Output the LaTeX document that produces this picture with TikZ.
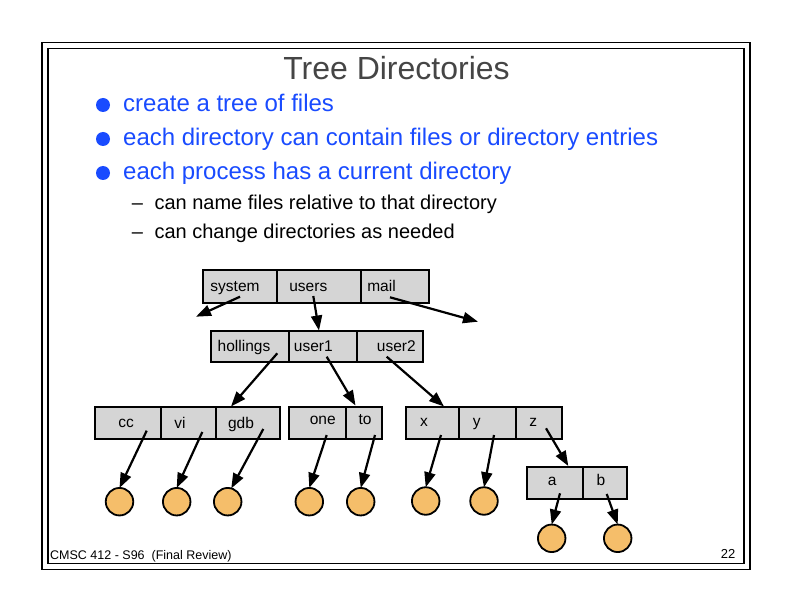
\documentclass[tikz,border=0pt]{standalone}
\usepackage{fontspec}
\setmainfont{Liberation Sans}
\usetikzlibrary{arrows.meta}
\definecolor{bluetext}{RGB}{25,75,255}
\definecolor{titlegray}{RGB}{69,69,69}
\definecolor{cellgray}{RGB}{213,213,213}
\definecolor{fileorange}{RGB}{245,190,106}
\tikzset{
  cell/.style={draw=black, fill=cellgray, line width=1.9pt, inner sep=0pt, outer sep=0pt},
  lbl/.style={anchor=base, inner sep=0pt, font=\fontsize{15.5}{18}\selectfont},
  filenode/.style={circle, draw=black, fill=fileorange, line width=1.8pt, minimum size=27.5pt, inner sep=0pt, outer sep=0pt},
  ptr/.style={line width=2.2pt, -{Triangle[length=15pt,width=11pt]}, shorten >=0pt},
  bul/.style={circle, fill=bluetext, minimum size=14pt, inner sep=0pt},
  btext/.style={anchor=base west, inner sep=0pt, text=bluetext, font=\fontsize{24}{28}\selectfont},
  stext/.style={anchor=base west, inner sep=0pt, font=\fontsize{20}{24}\selectfont},
}
\begin{document}
\begin{tikzpicture}[x=1pt,y=-1pt]
\useasboundingbox (0,0) rectangle (792,612);
% frames
\draw[line width=1.2pt] (42,42.5) rectangle (750,569.3);
\draw[line width=1.2pt] (48,48.5) rectangle (744,563.3);
% title
\node[anchor=base, inner sep=0pt, text=titlegray, font=\fontsize{32}{36}\selectfont] (title) at (396.5,79.3) {Tree Directories};
% bullets
\node[bul] (d1) at (103,105) {};
\node[bul] (d2) at (103,139) {};
\node[bul] (d3) at (103,173) {};
\node[btext] (t1) at (123,112) {create a tree of files};
\node[btext] (t2) at (123,146) {each directory can contain files or directory entries};
\node[btext] (t3) at (123,180) {each process has a current directory};
\node[stext] (s1d) at (131.7,210) {–};
\node[stext] (s1) at (154.3,210) {can name files relative to that directory};
\node[stext] (s2d) at (131.7,238.3) {–};
\node[stext] (s2) at (154.3,238.3) {can change directories as needed};
% footer
\node[anchor=base west, inner sep=0pt, font=\fontsize{12.5}{14}\selectfont] (foot) at (50,559.3) {CMSC 412 - S96\ \ (Final Review)};
\node[anchor=base east, inner sep=0pt, font=\fontsize{13}{14}\selectfont] (pg) at (735.5,558.5) {22};

% row 1
\node[cell, minimum width=74pt, minimum height=33pt] (system) at (240.3,286.5) {};
\node[cell, minimum width=83.7pt, minimum height=33pt] (users) at (319.15,286.5) {};
\node[cell, minimum width=68pt, minimum height=33pt] (mail) at (395,286.5) {};
\node[lbl] (lsystem) at (235,291.7) {system};
\node[lbl] (lusers) at (308.3,291.7) {users};
\node[lbl] (lmail) at (381.5,291.7) {mail};
% row 2
\node[cell, minimum width=78.3pt, minimum height=31.3pt] (hollings) at (249.85,346.65) {};
\node[cell, minimum width=67.7pt, minimum height=31.3pt] (user1) at (322.85,346.65) {};
\node[cell, minimum width=66.6pt, minimum height=31.3pt] (user2) at (390,346.65) {};
\node[lbl] (lhollings) at (244,351) {hollings};
\node[lbl] (luser1) at (313.3,351) {user1};
\node[lbl] (luser2) at (396.3,351) {user2};
% row 3
\node[cell, minimum width=66pt, minimum height=31.5pt] (cc) at (128,423) {};
\node[cell, minimum width=54.7pt, minimum height=31.5pt] (vi) at (188.35,423) {};
\node[cell, minimum width=64.3pt, minimum height=31.5pt] (gdb) at (247.85,423) {};
\node[cell, minimum width=56.4pt, minimum height=31.5pt] (one) at (317.5,423) {};
\node[cell, minimum width=36.3pt, minimum height=31.5pt] (to) at (363.85,423) {};
\node[cell, minimum width=53.3pt, minimum height=31.5pt] (x) at (432.35,423) {};
\node[cell, minimum width=57pt, minimum height=31.5pt] (y) at (487.5,423) {};
\node[cell, minimum width=45.7pt, minimum height=31.5pt] (z) at (538.85,423) {};
\node[lbl] (lcc) at (126,427) {cc};
\node[lbl] (lvi) at (180,428.3) {vi};
\node[lbl] (lgdb) at (241,428.3) {gdb};
\node[lbl] (lone) at (322.7,424.3) {one};
\node[lbl] (lto) at (365,424.3) {to};
\node[lbl] (lx) at (424,426.7) {x};
\node[lbl] (ly) at (476.7,426.7) {y};
\node[lbl] (lz) at (533.3,426.7) {z};
% row 4
\node[cell, minimum width=56pt, minimum height=32.3pt] (a) at (554.7,482.85) {};
\node[cell, minimum width=44.6pt, minimum height=32.3pt] (b) at (605,482.85) {};
\node[lbl] (la) at (552.3,485.7) {a};
\node[lbl] (lb) at (601,485.7) {b};

% files
\node[filenode] (fcc) at (119.5,501.7) {};
\node[filenode] (fvi) at (176.7,501.7) {};
\node[filenode] (fgdb) at (227.7,501.7) {};
\node[filenode] (fone) at (309.3,501.7) {};
\node[filenode] (fto) at (360.7,501.7) {};
\node[filenode] (fx) at (425.7,501) {};
\node[filenode] (fy) at (484,501) {};
\node[filenode] (fa) at (551.7,538.3) {};
\node[filenode] (fb) at (617.7,538.3) {};

% pointer start points
\coordinate (psystem) at (240,296.7);
\coordinate (pusers) at (313.3,296);
\coordinate (pmail) at (390,297.3);
\coordinate (phollings) at (277.3,353.3);
\coordinate (puser1) at (326.7,356.7);
\coordinate (puser2) at (386.7,356.7);
\coordinate (pcc) at (146.7,430.7);
\coordinate (pvi) at (202.3,432);
\coordinate (pgdb) at (263.3,429);
\coordinate (pone) at (326.7,435);
\coordinate (pto) at (375,435);
\coordinate (px) at (441,435);
\coordinate (py) at (494,435);
\coordinate (pz) at (546,428.3);
\coordinate (pa) at (560,493.3);
\coordinate (pb) at (606.7,494);
% pointer targets
\coordinate (esystem) at (196,316.7);
\coordinate (email) at (478,321.7);
\coordinate (eusers) at (319,330.5);
\coordinate (ehollings) at (231,406.5);
\coordinate (euser1) at (355.5,405.5);
\coordinate (euser2) at (444,406.5);
\coordinate (ez) at (568.3,466);

\draw[ptr] (psystem) -- (esystem);
\draw[ptr] (pusers) -- (eusers);
\draw[ptr] (pmail) -- (email);
\draw[ptr] (phollings) -- (ehollings);
\draw[ptr] (puser1) -- (euser1);
\draw[ptr] (puser2) -- (euser2);
\draw[ptr] (pcc) -- (fcc.north);
\draw[ptr] (pvi) -- (fvi.north);
\draw[ptr] (pgdb) -- (fgdb.75);
\draw[ptr] (pone) -- (fone.north);
\draw[ptr] (pto) -- (fto.north);
\draw[ptr] (px) -- (fx.north);
\draw[ptr] (py) -- (fy.north);
\draw[ptr] (pz) -- (ez);
\draw[ptr] (pa) -- (fa.north);
\draw[ptr] (pb) -- (fb.north);
\end{tikzpicture}
\end{document}
